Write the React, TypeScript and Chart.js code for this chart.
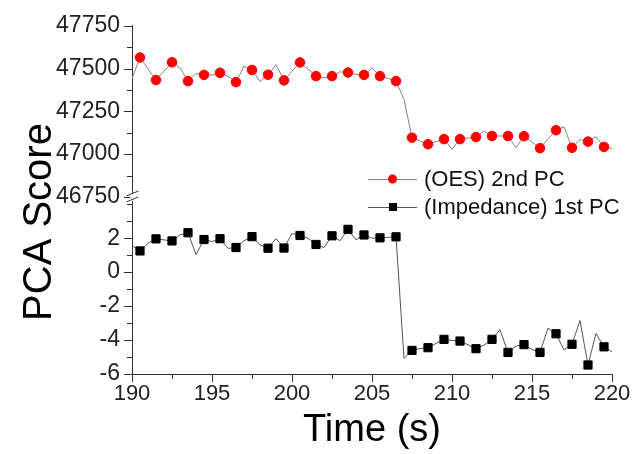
import React, { useEffect, useRef } from 'react';
import { Chart, registerables } from 'chart.js';

Chart.register(...registerables);

// Time (s): samples every 0.5 s
const TIME = [
  190, 190.5, 191, 191.5, 192, 192.5, 193, 193.5, 194, 194.5,
  195, 195.5, 196, 196.5, 197, 197.5, 198, 198.5, 199, 199.5,
  200, 200.5, 201, 201.5, 202, 202.5, 203, 203.5, 204, 204.5,
  205, 205.5, 206, 206.5, 207, 207.5, 208, 208.5, 209, 209.5,
  210, 210.5, 211, 211.5, 212, 212.5, 213, 213.5, 214, 214.5,
  215, 215.5, 216, 216.5, 217, 217.5, 218, 218.5, 219, 219.5,
  220,
];

// (OES) 2nd PC score
const OES_2ND_PC = [
  47442, 47565, 47499, 47433, 47485, 47537, 47505, 47427, 47471, 47463,
  47462, 47475, 47455, 47421, 47514, 47492, 47423, 47464, 47523, 47431,
  47485, 47536, 47497, 47456, 47446, 47456, 47481, 47477, 47466, 47463,
  47504, 47456, 47443, 47427, 47320, 47096, 47077, 47058, 47073, 47088,
  47028, 47088, 47094, 47100, 47135, 47106, 47106, 47106, 47038, 47105,
  47070, 47035, 47090, 47140, 47160, 47037, 47086, 47073, 47102, 47042,
  47033,
];

// (Impedance) 1st PC score
const IMPEDANCE_1ST_PC = [
  1.56, 1.25, 1.70, 1.96, 1.90, 1.84, 2.20, 2.32, 1.03, 1.92,
  1.80, 1.97, 1.40, 1.45, 1.85, 2.09, 1.61, 1.41, 1.97, 1.42,
  2.28, 2.16, 2.00, 1.63, 1.45, 2.14, 1.85, 2.52, 1.90, 2.19,
  2.00, 2.02, 2.05, 2.08, -5.08, -4.61, -4.50, -4.45, -4.20, -3.96,
  -4.02, -4.06, -4.28, -4.51, -4.30, -3.96, -3.39, -4.73, -4.35, -4.27,
  -4.56, -4.73, -3.30, -3.63, -4.58, -4.25, -2.85, -5.47, -3.61, -4.40,
  -4.70,
];

const SERIES_LABELS = ['(OES) 2nd PC', '(Impedance) 1st PC'];
const X_AXIS_TITLE = 'Time (s)';
const Y_AXIS_TITLE = 'PCA Score';

const X_RANGE = [190, 220];
const UPPER_RANGE = [46750, 47750];
const LOWER_RANGE = [-6, 4.43];

const FONT = '"Liberation Sans", Arial, Helvetica, sans-serif';
const AXIS_COLOR = '#333333';
const TEXT_COLOR = '#222222';

const decorPlugin = {
  id: 'decor',
  afterDraw(chart: any) {
    const ctx = chart.ctx;
    const area = chart.chartArea;
    ctx.save();
    ctx.strokeStyle = AXIS_COLOR;
    ctx.lineWidth = 1;

    // tick marks: major (labelled) longer, minor shorter
    const drawTicks = (scale: any, horizontal: boolean) => {
      scale.ticks.forEach((t: any) => {
        const p = Math.round(scale.getPixelForValue(t.value)) + 0.5;
        const major = t.label !== '' && t.label !== undefined;
        const len = major ? 8 : 5;
        ctx.beginPath();
        if (horizontal) {
          ctx.moveTo(p, area.bottom);
          ctx.lineTo(p, area.bottom + len);
        } else {
          ctx.moveTo(area.left, p);
          ctx.lineTo(area.left - len, p);
        }
        ctx.stroke();
      });
    };
    drawTicks(chart.scales.x, true);
    drawTicks(chart.scales.yTop, false);
    drawTicks(chart.scales.yBot, false);

    // axis break mark
    const bx = area.left + 0.5;
    const by = chart.scales.yBot.top;
    ctx.fillStyle = '#ffffff';
    ctx.fillRect(bx - 2, by - 3, 4, 7);
    ctx.beginPath();
    ctx.moveTo(bx - 6, by - 1);
    ctx.lineTo(bx + 6, by - 6);
    ctx.moveTo(bx - 6, by + 5);
    ctx.lineTo(bx + 6, by);
    ctx.stroke();

    // y axis title
    ctx.fillStyle = '#000000';
    ctx.font = `40px ${FONT}`;
    ctx.textAlign = 'center';
    ctx.textBaseline = 'middle';
    ctx.save();
    ctx.translate(40, 222);
    ctx.rotate(-Math.PI / 2);
    ctx.fillText(Y_AXIS_TITLE, 0, 0);
    ctx.restore();

    // legend
    const rows = [179, 207];
    chart.data.datasets.forEach((ds: any, i: number) => {
      const y = rows[i];
      ctx.strokeStyle = ds.borderColor;
      ctx.lineWidth = 1;
      ctx.beginPath();
      ctx.moveTo(368, y + 0.5);
      ctx.lineTo(417, y + 0.5);
      ctx.stroke();
      ctx.fillStyle = ds.pointBackgroundColor;
      if (ds.pointStyle === 'rect') {
        ctx.fillRect(389, y - 4, 8, 8);
      } else {
        ctx.beginPath();
        ctx.arc(392.5, y, 4.5, 0, Math.PI * 2);
        ctx.fill();
      }
      ctx.fillStyle = '#111111';
      ctx.font = `22px ${FONT}`;
      ctx.textAlign = 'left';
      ctx.textBaseline = 'middle';
      ctx.fillText(ds.label, 424, y + 1);
    });
    ctx.restore();
  },
};

export default function App() {
  const canvasRef = useRef<HTMLCanvasElement | null>(null);

  useEffect(() => {
    document.body.style.margin = '0';
    const canvas = canvasRef.current;
    if (!canvas) return;

    const markerRadius = (r: number) => (c: any) => (c.dataIndex % 2 === 1 ? r : 0);

    const chart = new Chart(canvas, {
      type: 'line',
      data: {
        datasets: [
          {
            label: SERIES_LABELS[0],
            data: TIME.map((t, i) => ({ x: t, y: OES_2ND_PC[i] })),
            yAxisID: 'yTop',
            borderColor: '#8a8080',
            borderWidth: 1,
            pointBackgroundColor: '#ff0000',
            pointBorderColor: '#ff0000',
            pointBorderWidth: 1,
            pointStyle: 'circle',
            pointRadius: markerRadius(4.8),
            tension: 0,
          },
          {
            label: SERIES_LABELS[1],
            data: TIME.map((t, i) => ({ x: t, y: IMPEDANCE_1ST_PC[i] })),
            yAxisID: 'yBot',
            borderColor: '#555555',
            borderWidth: 1,
            pointBackgroundColor: '#000000',
            pointBorderColor: '#000000',
            pointBorderWidth: 1,
            pointStyle: 'rect',
            pointRadius: markerRadius(5.8),
            tension: 0,
          },
        ],
      },
      options: {
        animation: false,
        responsive: false,
        maintainAspectRatio: false,
        layout: { padding: { left: 0, right: 28, top: 22, bottom: 0 } },
        plugins: {
          legend: { display: false },
          tooltip: { enabled: false },
        },
        elements: { point: { hoverRadius: 0 } },
        scales: {
          x: {
            type: 'linear',
            position: 'bottom',
            min: X_RANGE[0],
            max: X_RANGE[1],
            grid: { drawOnChartArea: false, drawTicks: false },
            border: { display: true, color: AXIS_COLOR, width: 1 },
            ticks: {
              stepSize: 2.5,
              padding: 7,
              color: TEXT_COLOR,
              font: { family: FONT, size: 22 },
              maxRotation: 0,
              autoSkip: false,
              callback: (v: any) => (Number(v) % 5 === 0 ? String(v) : ''),
            },
            title: {
              display: true,
              text: X_AXIS_TITLE,
              color: '#000000',
              font: { family: FONT, size: 38 },
              padding: { top: 0, bottom: 1 },
            },
            afterFit: (s: any) => {
              s.height = 80;
            },
          },
          yTop: {
            type: 'linear',
            position: 'left',
            stack: 'pca',
            stackWeight: 173,
            weight: 1,
            min: UPPER_RANGE[0],
            max: UPPER_RANGE[1],
            grid: { drawOnChartArea: false, drawTicks: false },
            border: { display: true, color: AXIS_COLOR, width: 1 },
            ticks: {
              stepSize: 125,
              padding: 12,
              color: TEXT_COLOR,
              font: { family: FONT, size: 23 },
              autoSkip: false,
              callback: (v: any) => (Number(v) % 250 === 0 ? String(v) : ''),
            },
            afterFit: (s: any) => {
              s.width = 132;
            },
          },
          yBot: {
            type: 'linear',
            position: 'left',
            stack: 'pca',
            stackWeight: 179,
            weight: 0,
            min: LOWER_RANGE[0],
            max: LOWER_RANGE[1],
            grid: { drawOnChartArea: false, drawTicks: false },
            border: { display: true, color: AXIS_COLOR, width: 1 },
            ticks: {
              stepSize: 1,
              includeBounds: false,
              padding: 12,
              color: TEXT_COLOR,
              font: { family: FONT, size: 23 },
              autoSkip: false,
              callback: (v: any) => {
                const n = Number(v);
                return n <= 2 && n % 2 === 0 ? String(n) : '';
              },
            },
            afterFit: (s: any) => {
              s.width = 132;
            },
          },
        },
      } as any,
      plugins: [decorPlugin],
    });

    return () => {
      chart.destroy();
    };
  }, []);

  return (
    <div style={{ width: 640, height: 454, background: '#ffffff' }}>
      <canvas ref={canvasRef} width={640} height={454} style={{ display: 'block' }} />
    </div>
  );
}
